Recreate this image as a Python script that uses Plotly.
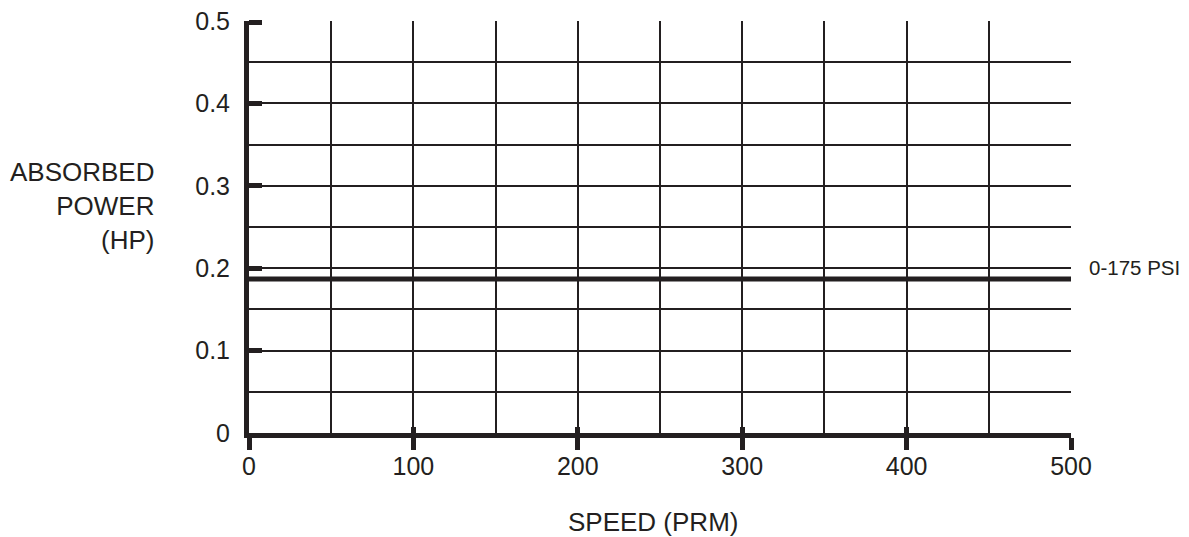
import plotly.graph_objects as go

# Data
speed = [0, 500]
power_0_175 = [0.187, 0.187]
series_label = "0-175 PSI"
x_ticks = [0, 100, 200, 300, 400, 500]
y_ticks = [0, 0.1, 0.2, 0.3, 0.4, 0.5]
y_tick_text = ["0", "0.1", "0.2", "0.3", "0.4", "0.5"]

INK = "#231f20"
FONT = "Liberation Sans, Arial, sans-serif"

fig = go.Figure()
fig.add_trace(go.Scatter(x=speed, y=power_0_175, mode="lines",
                         line=dict(color=INK, width=5), showlegend=False,
                         hoverinfo="skip"))
# empty helper trace so the overlay axis (top tick mark) gets drawn
fig.add_trace(go.Scatter(x=[], y=[], xaxis="x2", yaxis="y2", mode="lines",
                         showlegend=False, hoverinfo="skip"))

fig.update_layout(
    width=1189, height=537,
    margin=dict(l=249, r=118, t=21, b=104),
    paper_bgcolor="white", plot_bgcolor="white",
    font=dict(family=FONT, color=INK, size=25),
    showlegend=False,
    xaxis=dict(range=[0, 500], tickvals=x_ticks, ticktext=[str(v) for v in x_ticks],
               showline=True, linecolor=INK, linewidth=5,
               ticks="outside", ticklen=12, tickwidth=5, tickcolor=INK,
               ticklabelstandoff=-5,
               showgrid=True, gridcolor=INK, gridwidth=2,
               minor=dict(dtick=50, showgrid=True, gridcolor=INK, gridwidth=2),
               zeroline=False, fixedrange=True, automargin=False,
               tickfont=dict(size=25, family=FONT, color=INK)),
    yaxis=dict(range=[0, 0.5], tickvals=y_ticks, ticktext=y_tick_text,
               showline=True, linecolor=INK, linewidth=5,
               ticks="inside", ticklen=13, tickwidth=5, tickcolor=INK,
               ticklabelstandoff=9,
               showgrid=True, gridcolor=INK, gridwidth=2,
               minor=dict(dtick=0.05, showgrid=True, gridcolor=INK, gridwidth=2),
               zeroline=False, fixedrange=True, automargin=False,
               tickfont=dict(size=25, family=FONT, color=INK)),
    xaxis2=dict(overlaying="x", range=[0, 500], tickvals=x_ticks,
                showticklabels=False, ticks="inside", ticklen=6, tickwidth=5,
                tickcolor=INK, showgrid=False, zeroline=False, showline=False,
                side="bottom", anchor="y2", automargin=False, fixedrange=True),
    yaxis2=dict(overlaying="y", range=[0, 0.5015], tickvals=[y_ticks[-1]],
                showticklabels=False, ticks="inside", ticklen=13, tickwidth=5,
                tickcolor=INK, showgrid=False, zeroline=False, showline=False,
                side="left", anchor="x2", automargin=False, fixedrange=True),
)

fig.add_annotation(text="ABSORBED<br>POWER<br>(HP)", xref="paper", yref="paper",
                   x=-0.112, y=0.552, xanchor="right", yanchor="middle",
                   align="right", showarrow=False,
                   font=dict(size=26, family=FONT, color=INK))
fig.add_annotation(text="SPEED (PRM)", xref="paper", yref="paper",
                   x=0.491, y=0, xanchor="center", yanchor="middle",
                   yshift=-89, showarrow=False,
                   font=dict(size=26, family=FONT, color=INK))
fig.add_annotation(text=series_label, x=speed[-1], y=power_0_175[-1],
                   xref="x", yref="y", xanchor="left", yanchor="middle",
                   xshift=16, yshift=11, showarrow=False,
                   font=dict(size=20.5, family=FONT, color=INK))

fig.write_html(
    "out.html",
    config={"displayModeBar": False},
    post_script="document.body.style.margin='0';document.body.style.overflow='hidden';",
)
